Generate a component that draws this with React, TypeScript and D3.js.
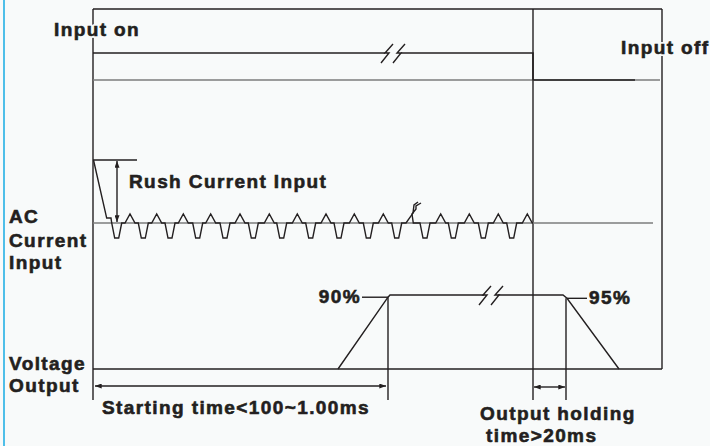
import React, { useEffect, useRef } from "react";
import * as d3 from "d3";

// time runs left to right in arbitrary units
const T_END = 569;
const T_OFF = 440; // input switched off

// input on / off lane (1 = on, 0 = off)
const inputOnA: [number, number][] = [[0, 1], [292, 1]];
const inputOnB: [number, number][] = [[308, 1], [T_OFF, 1], [T_OFF, 0], [542, 0]];
const inputBase: [number, number][] = [[0, 0], [567, 0]];
const inputBreaks = [294, 306];

// AC current lane: baseline 0, ripple peaks +10, troughs -16.7
const acTroughs = [23.7, 50.3, 77, 104.7, 132, 160.3, 188.7, 217.7, 246, 275.3, 303.7, 332, 360.3, 390.3, 418.7];
const acPeaks = [37, 63.7, 90.3, 117.7, 147, 176.3, 204.3, 233, 261.3, 290.3, 347.7, 376.3, 405.3, 434.3];
const rushLevel = 70;
const rush: [number, number][] = [[0.5, rushLevel], [13.7, 5.5], [18, 5.5]];
const acBreakA: [number, number][] = [[308.7, 0], [313, 0], [320, 11], [321, 20], [325, 23.3]];
const acBreakB: [number, number][] = [[328, 22.2], [323, 18.9], [323, 15.6], [319, 10], [320.3, 0]];
const acBase: [number, number][] = [[0, 0], [560, 0]];
const rushTop: [number, number][] = [[0, rushLevel], [44, rushLevel]];
const rushArrowT = 24;

// voltage output lane in percent
const voltBase: [number, number][] = [[0, 0], [T_END, 0]];
const voltRise: [number, number][] = [[245, 0], [295, 97], [297, 100], [391, 100]];
const voltFall: [number, number][] = [[405, 100], [470, 100], [474, 95.5], [526, 0]];
const voltBreaks = [392, 404];
const mark90: [number, number][] = [[269, 97], [295, 97]];
const mark95: [number, number][] = [[474, 95.5], [494, 95.5]];

// timing spans
const startSpan = [2, 293];
const holdSpan = [T_OFF, 473];

const INK = "#231f20";
const BG = "#f8fafa";
const FONT = "'Liberation Sans', Arial, Helvetica, sans-serif";

export default function App() {
  const ref = useRef<SVGSVGElement>(null);

  useEffect(() => {
    const svg = d3.select(ref.current);
    svg.selectAll("*").remove();

    const x = d3.scaleLinear().domain([0, T_END]).range([93, 662]);
    const yIn = d3.scaleLinear().domain([0, 1]).range([80, 53]);
    const yAc = d3.scaleLinear().domain([0, 10]).range([223, 214]);
    const yV = d3.scaleLinear().domain([0, 100]).range([369, 295]);
    const frameTop = 9;
    const guideBottom = 400;

    const defs = svg.append("defs");
    defs.append("marker")
      .attr("id", "ah")
      .attr("viewBox", "0 0 8 6")
      .attr("refX", 8).attr("refY", 3)
      .attr("markerWidth", 8).attr("markerHeight", 5)
      .attr("markerUnits", "userSpaceOnUse")
      .attr("orient", "auto-start-reverse")
      .append("path").attr("d", "M0,0 L8,3 L0,6 z").attr("fill", INK);

    svg.append("rect").attr("width", 710).attr("height", 446).attr("fill", BG);
    svg.append("rect").attr("x", 3).attr("width", 2).attr("height", 446).attr("fill", "#4fbfe9");

    const g = svg.append("g").attr("fill", "none").attr("stroke", INK).attr("stroke-width", 1.4);

    const path = (pts: [number, number][], y: d3.ScaleLinear<number, number>, color = INK, w = 1.4) =>
      g.append("path")
        .attr("d", d3.line<[number, number]>().x(d => x(d[0])).y(d => y(d[1]))(pts))
        .attr("stroke", color).attr("stroke-width", w);

    // frame and guide lines
    g.append("line").attr("x1", x(0)).attr("x2", x(T_END)).attr("y1", frameTop).attr("y2", frameTop);
    g.append("line").attr("x1", x(0)).attr("x2", x(0)).attr("y1", frameTop).attr("y2", guideBottom);
    g.append("line").attr("x1", x(T_OFF)).attr("x2", x(T_OFF)).attr("y1", frameTop).attr("y2", guideBottom);
    g.append("line").attr("x1", x(T_END)).attr("x2", x(T_END)).attr("y1", frameTop).attr("y2", yV(0));
    g.append("line").attr("x1", x(mark90[1][0])).attr("x2", x(mark90[1][0])).attr("y1", yV(97)).attr("y2", guideBottom);
    g.append("line").attr("x1", x(holdSpan[1])).attr("x2", x(holdSpan[1])).attr("y1", yV(95.5)).attr("y2", guideBottom);

    // input lane
    path(inputBase, yIn, "#7d7d7d", 1.3);
    path(inputOnA, yIn);
    path(inputOnB, yIn, INK, 1.6);

    const glyph = (cx: number, cy: number) =>
      g.append("path").attr("d", `M${cx - 6},${cy + 10} L${cx + 2},${cy} L${cx - 2},${cy} L${cx + 6},${cy - 9}`);
    inputBreaks.forEach(t => glyph(x(t), yIn(1)));

    // AC current lane
    path(acBase, yAc, "#7d7d7d", 1.3);
    const feats: [number, number][][] = [];
    acTroughs.forEach(c => feats.push([[c - 5, 0], [c - 2, -16.7], [c + 2, -16.7], [c + 5, 0]]));
    acPeaks.forEach(c => feats.push([[c - 5, 0], [c, 10], [c + 5, 0]]));
    feats.sort((a, b) => a[0][0] - b[0][0]);
    const wave1: [number, number][] = [...rush];
    const wave2: [number, number][] = [...acBreakB];
    feats.forEach(f => (f[0][0] < 310 ? wave1 : wave2).push(...f));
    wave1.push(...acBreakA.slice(1));
    wave2.push([T_OFF, 0]);
    path(wave1, yAc);
    path(wave2, yAc);
    path(rushTop, yAc);
    g.append("line")
      .attr("x1", x(rushArrowT)).attr("x2", x(rushArrowT))
      .attr("y1", yAc(rushLevel) + 1).attr("y2", yAc(0) - 1)
      .attr("marker-start", "url(#ah)").attr("marker-end", "url(#ah)");

    // voltage lane
    path(voltBase, yV);
    path(voltRise, yV);
    path(voltFall, yV);
    voltBreaks.forEach(t => glyph(x(t), yV(100)));
    path(mark90, yV);
    path(mark95, yV);

    // spans
    g.append("line").attr("x1", x(startSpan[0])).attr("x2", x(startSpan[1])).attr("y1", 386).attr("y2", 386)
      .attr("marker-start", "url(#ah)").attr("marker-end", "url(#ah)");
    g.append("line").attr("x1", x(holdSpan[0]) + 1).attr("x2", x(holdSpan[1]) - 1).attr("y1", 387).attr("y2", 387)
      .attr("marker-start", "url(#ah)").attr("marker-end", "url(#ah)");

    // labels
    const labels: [string, number, number, string][] = [
      ["Input on", 54, 36, "start"],
      ["Input off", 621, 54, "start"],
      ["Rush Current Input", 129, 188, "start"],
      ["AC", 9, 223, "start"],
      ["Current", 9, 246.5, "start"],
      ["Input", 9, 269, "start"],
      ["Voltage", 9, 370, "start"],
      ["Output", 9, 392, "start"],
      ["Starting time<100~1.00ms", 102, 414, "start"],
      ["Output holding", 480, 420, "start"],
      ["time>20ms", 486, 442, "start"],
      ["90%", x(mark90[0][0]) - 1, yV(97) + 6, "end"],
      ["95%", x(mark95[1][0]) + 2, yV(95.5) + 6, "start"],
    ];
    const text = (cls: string) =>
      svg.append("g").attr("class", cls).selectAll("text").data(labels).join("text")
        .attr("x", d => d[1]).attr("y", d => d[2])
        .attr("text-anchor", d => d[3])
        .attr("font-family", FONT).attr("font-weight", "bold").attr("font-size", 19)
        .attr("letter-spacing", 1.4)
        .text(d => d[0]);
    text("halo").attr("fill", BG).attr("stroke", BG).attr("stroke-width", 4).attr("stroke-linejoin", "round");
    text("ink").attr("fill", INK).attr("stroke", INK).attr("stroke-width", 0.6);
  }, []);

  return (
    <div style={{ position: "fixed", left: 0, top: 0 }}>
      <svg ref={ref} width={710} height={446} style={{ display: "block" }} />
    </div>
  );
}
